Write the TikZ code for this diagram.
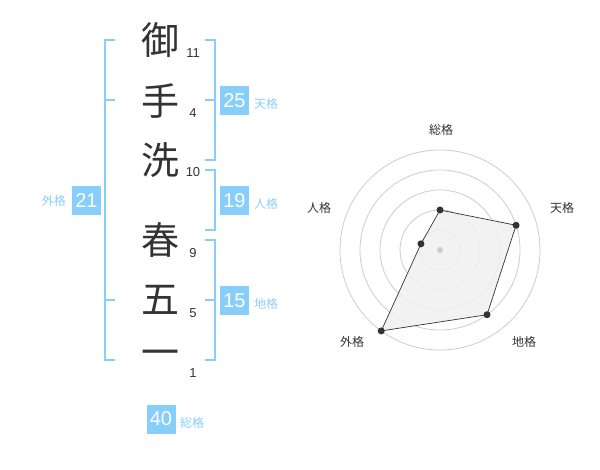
\documentclass[tikz,border=0pt]{standalone}
\usepackage{fontspec}
\usetikzlibrary{calc}
\setmainfont{Liberation Sans}
\newfontfamily\cjk{Noto Sans CJK JP}
\definecolor{skyb}{HTML}{87CEFA}
\definecolor{lbl}{HTML}{8CCFF5}
\definecolor{dk}{HTML}{333333}
\definecolor{ring}{HTML}{CCCCCC}
\definecolor{poly}{HTML}{F0F0F0}
\begin{document}
\begin{tikzpicture}[x=1pt,y=-1pt,
  kanji/.style={font=\cjk\fontsize{38}{38}\selectfont, text=dk, inner sep=0pt},
  stroke/.style={font=\fontsize{13}{13}\selectfont, text=dk, inner sep=0pt},
  brk/.style={draw=skyb, line width=2pt},
  numbox/.style={fill=skyb, text=white, minimum width=29pt, minimum height=29pt, inner sep=0pt, font=\fontsize{20}{20}\selectfont},
  kaku/.style={font=\cjk\fontsize{12}{12}\selectfont, text=lbl, inner sep=0pt},
  axlbl/.style={font=\cjk\fontsize{12}{12}\selectfont, text=dk, inner sep=0pt},
  pt/.style={circle, fill=dk, minimum size=7pt, inner sep=0pt},
]
\useasboundingbox (0,0) rectangle (600,470);
% kanji
\node[kanji] (k1) at (160,40) {御};
\node[kanji] (k2) at (160,101) {手};
\node[kanji] (k3) at (160,160) {洗};
\node[kanji] (k4) at (160,240) {春};
\node[kanji] (k5) at (160,300) {五};
\node[kanji] (k6) at (160,358) {一};
% stroke counts
\node[stroke] (s1) at (193,53) {11};
\node[stroke] (s2) at (193,113) {4};
\node[stroke] (s3) at (193,172) {10};
\node[stroke] (s4) at (193,253) {9};
\node[stroke] (s5) at (193,313) {5};
\node[stroke] (s6) at (193,373) {1};
% left bracket (gaikaku)
\draw[brk] (115,40) -- (105,40) -- (105,360) -- (115,360);
\draw[brk] (105,100) -- (115,100);
\draw[brk] (105,300) -- (115,300);
\node[numbox] (b21) at (86.5,200.5) {21};
\node[kaku, anchor=east] (l21) at (66,201) {外格};
% tenkaku
\draw[brk] (205,40) -- (215,40) -- (215,160) -- (205,160);
\draw[brk] (205,100) -- (215,100);
\node[numbox] (b25) at (234.5,100.5) {25};
\node[kaku, anchor=west] (l25) at (254,104) {天格};
% jinkaku
\draw[brk] (205,170) -- (215,170) -- (215,230) -- (205,230);
\node[numbox] (b19) at (234.5,200.5) {19};
\node[kaku, anchor=west] (l19) at (254,204) {人格};
% chikaku
\draw[brk] (205,240) -- (215,240) -- (215,360) -- (205,360);
\draw[brk] (205,300) -- (215,300);
\node[numbox] (b15) at (234.5,300.5) {15};
\node[kaku, anchor=west] (l15) at (254,304) {地格};
% soukaku
\node[numbox] (b40) at (161,419) {40};
\node[kaku, anchor=west] (l40) at (180,423) {総格};
% radar
\coordinate (c) at (440,250);
\foreach \r in {20,40,60,80,100} \draw[ring, line width=0.8pt] (c) circle (\r);
\coordinate (pS) at ($(c)+(0,-40)$);
\coordinate (pT) at ($(c)+({80*cos(18)},{-80*sin(18)})$);
\coordinate (pC) at ($(c)+({80*cos(54)},{80*sin(54)})$);
\coordinate (pG) at ($(c)+({-100*cos(54)},{100*sin(54)})$);
\coordinate (pJ) at ($(c)+({-20*cos(18)},{-20*sin(18)})$);
\draw[dk, fill=poly, fill opacity=0.85, line width=0.7pt] (pS) -- (pT) -- (pC) -- (pG) -- (pJ) -- cycle;
\node[circle, fill=ring, minimum size=6pt, inner sep=0pt] (cd) at (c) {};
\foreach \p in {pS,pT,pC,pG,pJ} \node[pt] at (\p) {};
\node[axlbl] (aS) at (441,130) {総格};
\node[axlbl] (aT) at (562,208) {天格};
\node[axlbl] (aJ) at (319,208) {人格};
\node[axlbl] (aG) at (352,342) {外格};
\node[axlbl] (aC) at (524,342) {地格};
\end{tikzpicture}
\end{document}
